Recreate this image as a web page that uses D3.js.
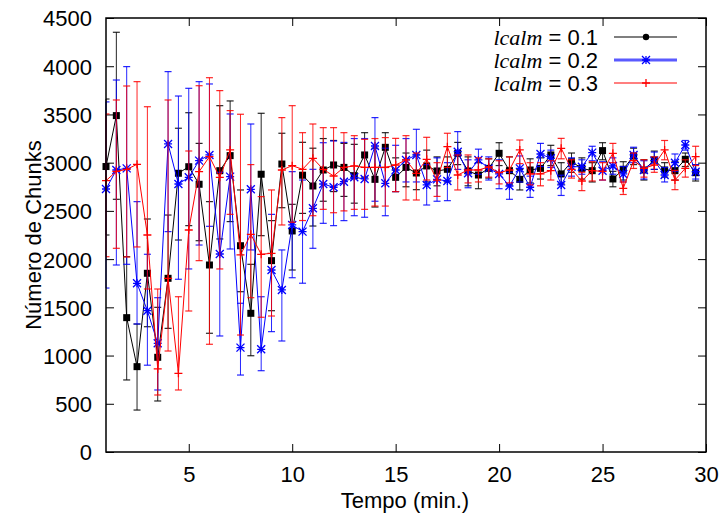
<!DOCTYPE html>
<html><head><meta charset="utf-8">
<script src="https://cdn.jsdelivr.net/npm/d3@7"></script>
<style>body{margin:0;background:#fff}</style></head>
<body>
<script>
const times = [1,1.5,2,2.5,3,3.5,4,4.5,5,5.5,6,6.5,7,7.5,8,8.5,9,9.5,10,10.5,11,11.5,12,12.5,13,13.5,14,14.5,15,15.5,16,16.5,17,17.5,18,18.5,19,19.5,20,20.5,21,21.5,22,22.5,23,23.5,24,24.5,25,25.5,26,26.5,27,27.5,28,28.5,29,29.5];

const l1 = [2960,3488,1393,885,1853,982,1801,2890,2958,2776,1939,2917,3073,2139,1438,2880,1984,2986,2292,2870,2758,2924,2976,2951,2865,3080,2827,3159,2848,2951,2893,2966,2914,2931,3097,2914,2872,2941,3097,2917,2827,2924,2941,3080,2883,3010,2941,2917,3125,2831,2931,3069,2924,3028,2924,2917,3035,2896];
const l1Lo = [2250,2620,747,435,1299,529,1282,2198,2347,2191,1231,2209,2389,1662,998,2243,1465,2533,1887,2474,2343,2600,2700,2650,2580,2850,2540,2950,2700,2750,2720,2800,2760,2800,2980,2760,2730,2840,2970,2770,2717,2790,2830,2970,2780,2900,2830,2800,3030,2750,2820,2980,2820,2930,2850,2820,2960,2810];
const l1Hi = [3660,4352,2025,1327,2416,1500,2457,3357,3518,3200,2596,3591,3640,2717,1946,3512,2399,3305,2568,3211,3150,3250,3230,3200,3190,3311,3150,3311,3050,3100,3080,3130,3060,3060,3210,3060,3000,3040,3207,3060,2930,3040,3050,3180,3000,3100,3050,3000,3207,2910,3010,3150,3030,3120,3000,3010,3100,2980];

const l2 = [2727,2924,2941,1749,1465,1127,3194,2779,2848,3021,3080,2053,2855,1082,2724,1065,1887,1680,2354,2285,2527,2779,2745,2803,2848,2831,3173,2786,2924,3028,3080,2769,2827,2810,3114,2890,3028,2941,2883,2758,2941,2745,3090,3045,2769,2958,2958,3104,2917,2966,2883,3080,2924,3021,2872,3000,3183,2906];
const l2Lo = [1700,1939,1946,1327,900,643,2285,1791,1898,2146,2340,1203,2105,798,2095,843,1248,1151,1807,1750,2112,2371,2347,2399,2450,2434,2600,2450,2700,2800,2800,2561,2600,2606,2930,2740,2880,2820,2730,2620,2800,2640,2960,2950,2660,2860,2880,3020,2820,2880,2800,3000,2830,2930,2800,2910,3130,2830];
const l2Hi = [3630,3857,3996,2596,2050,1600,3944,3691,3771,3840,3816,2900,3505,1542,3401,1610,2464,2095,2907,2820,2931,3207,3225,3210,3250,3250,3467,3150,3180,3250,3346,2980,3050,3000,3322,3030,3140,3060,3030,2900,3070,2860,3200,3130,2870,3050,3030,3170,3010,3050,2960,3160,3020,3110,2950,3090,3230,2980];

const l3 = [2813,2910,2930,2983,2250,861,1800,816,2302,2907,3062,2848,3132,2043,2257,2050,2060,2924,2969,2931,3045,2931,2862,2951,2966,2951,2951,2951,2976,3028,2890,3035,2820,3166,2872,2924,2924,2955,2896,2924,3132,2883,2883,2917,3149,2931,2810,2917,2910,3097,2734,3021,2941,2976,3132,2820,2941,3062];
const l3Lo = [2025,2112,2022,2126,1690,591,1047,643,1462,1984,1117,1898,2464,1213,1600,1397,1410,2354,2382,2400,2450,2516,2481,2500,2516,2516,2550,2550,2700,2613,2613,2820,2650,2950,2717,2790,2800,2850,2780,2790,2990,2770,2760,2820,3040,2840,2710,2810,2820,3000,2670,2940,2850,2900,3030,2720,2850,2970];
const l3Hi = [3505,3650,3795,3840,3580,1690,3650,1610,3121,3798,3881,3747,3540,3502,2980,2648,2717,3467,3591,3311,3401,3363,3363,3311,3280,3242,3250,3260,3252,3280,3100,3263,3000,3305,3080,3080,3050,3040,3020,3060,3235,3000,3000,3020,3252,3030,2900,3010,3000,3200,2800,3100,3030,3060,3230,2920,3030,3170];

const xTicks = [5,10,15,20,25,30];
const yTicks = [0,500,1000,1500,2000,2500,3000,3500,4000,4500];
const seriesNames = ["0.1","0.2","0.3"];

const W = 722, H = 527;
const FONT = "'Liberation Sans', Arial, Helvetica, sans-serif";
const svg = d3.select("body").append("svg").attr("width", W).attr("height", H)
  .style("font-family", FONT);

const x = d3.scaleLinear().domain([1, 30]).range([106, 706]);
const y = d3.scaleLinear().domain([0, 4500]).range([452, 18]);

const series = [
  {name: seriesNames[0], v: l1, lo: l1Lo, hi: l1Hi, color: "#000000", mark: "square"},
  {name: seriesNames[1], v: l2, lo: l2Lo, hi: l2Hi, color: "#0000ff", mark: "star"},
  {name: seriesNames[2], v: l3, lo: l3Lo, hi: l3Hi, color: "#ff0000", mark: "plus"}
];

// axes (ticks inward, mirrored)
const tl = 8;
const fmt = d3.format("d");
const gb = svg.append("g").attr("transform", `translate(0,${y(0)})`)
  .call(d3.axisBottom(x).tickValues(xTicks).tickFormat(fmt).tickSize(-tl).tickPadding(14).tickSizeOuter(0));
const gt = svg.append("g").attr("transform", `translate(0,${y(4500)})`)
  .call(d3.axisTop(x).tickValues(xTicks).tickSize(-tl).tickFormat("").tickSizeOuter(0));
const gl = svg.append("g").attr("transform", `translate(${x(1)},0)`)
  .call(d3.axisLeft(y).tickValues(yTicks).tickFormat(fmt).tickSize(-tl).tickPadding(14).tickSizeOuter(0));
const gr = svg.append("g").attr("transform", `translate(${x(30)},0)`)
  .call(d3.axisRight(y).tickValues(yTicks).tickSize(-tl).tickFormat("").tickSizeOuter(0));
[gb, gt, gl, gr].forEach(g => {
  g.select(".domain").remove();
  g.selectAll(".tick line").attr("stroke", "#000").attr("stroke-width", 1);
  g.selectAll("text").attr("fill", "#000").style("font-size", "22px").style("font-family", FONT);
});
gl.selectAll("text").attr("dy", "0.36em");

const plot = svg.append("g");

function drawMark(g, type, cx, cy, color) {
  if (type === "square") {
    g.append("rect").attr("x", cx - 3.5).attr("y", cy - 3.5).attr("width", 7).attr("height", 7).attr("fill", color);
  } else if (type === "circle") {
    g.append("circle").attr("cx", cx).attr("cy", cy).attr("r", 3.2).attr("fill", color);
  } else if (type === "star") {
    const r = 4;
    g.append("path").attr("d",
      `M${cx-r},${cy-r}L${cx+r},${cy+r}M${cx-r},${cy+r}L${cx+r},${cy-r}M${cx},${cy-r}L${cx},${cy+r}M${cx-r},${cy}L${cx+r},${cy}`)
      .attr("stroke", color).attr("stroke-width", 1.3).attr("fill", "none");
  } else if (type === "plus") {
    const r = 4;
    g.append("path").attr("d", `M${cx-r},${cy}L${cx+r},${cy}M${cx},${cy-r}L${cx},${cy+r}`)
      .attr("stroke", color).attr("stroke-width", 1.3).attr("fill", "none");
  }
}

series.forEach(s => {
  const g = plot.append("g");
  times.forEach((t, i) => {
    const cx = x(t);
    g.append("line").attr("x1", cx).attr("x2", cx).attr("y1", y(s.lo[i])).attr("y2", y(s.hi[i]))
      .attr("stroke", s.color).attr("stroke-width", 1).attr("opacity", 0.85);
    [s.lo[i], s.hi[i]].forEach(val => {
      g.append("line").attr("x1", Math.max(x(1), cx - 3.5)).attr("x2", cx + 3.5)
        .attr("y1", y(val)).attr("y2", y(val))
        .attr("stroke", s.color).attr("stroke-width", 1.2).attr("opacity", 0.85);
    });
  });
  g.append("path").datum(times.map((t, i) => [t, s.v[i]]))
    .attr("fill", "none").attr("stroke", s.color).attr("stroke-width", 1)
    .attr("d", d3.line().x(d => x(d[0])).y(d => y(d[1])));
  times.forEach((t, i) => drawMark(g, s.mark, x(t), y(s.v[i]), s.color));
});

// border
svg.append("rect").attr("x", x(1)).attr("y", y(4500)).attr("width", x(30) - x(1)).attr("height", y(0) - y(4500))
  .attr("fill", "none").attr("stroke", "#000").attr("stroke-width", 1.5);

// axis titles
svg.append("text").attr("x", 405).attr("y", 508).attr("text-anchor", "middle")
  .style("font-size", "22px").text("Tempo (min.)");
svg.append("text").attr("transform", "translate(41,235) rotate(-90)").attr("text-anchor", "middle")
  .style("font-size", "22px").text("Número de Chunks");

// legend
const legend = svg.append("g");
const legMarks = ["circle", "star", "plus"];
const legLineColor = ["#000000", "#5a5aff", "#ff0000"];
const legLineW = [1.2, 3, 1.2];
series.forEach((s, i) => {
  const cy = 37 + i * 23;
  const t = legend.append("text").attr("x", 598).attr("y", cy + 8).attr("text-anchor", "end")
    .style("font-size", "22px");
  t.append("tspan").style("font-family", "'Liberation Serif', 'Times New Roman', serif")
    .style("font-style", "italic").text("lcalm");
  t.append("tspan").text(" = " + s.name);
  legend.append("line").attr("x1", 614).attr("x2", 677).attr("y1", cy).attr("y2", cy)
    .attr("stroke", legLineColor[i]).attr("stroke-width", legLineW[i]);
  drawMark(legend, legMarks[i], 646, cy, s.color);
});
</script>
</body></html>
